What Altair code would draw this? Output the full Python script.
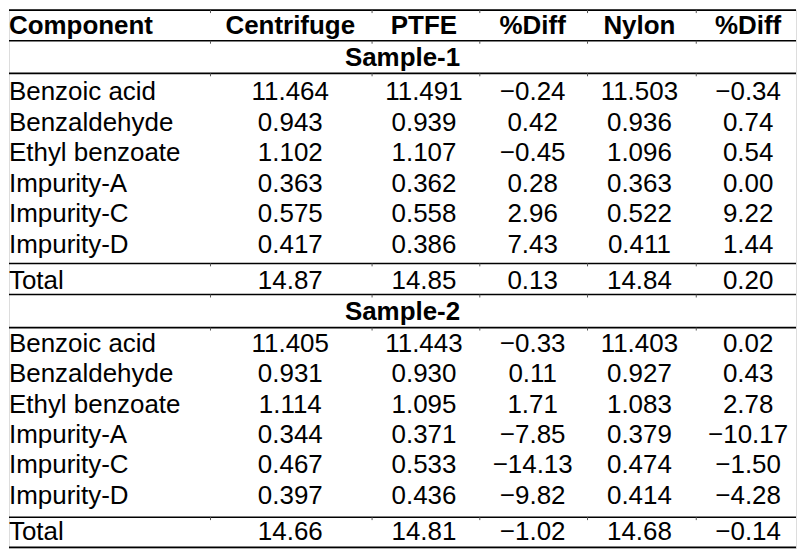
import altair as alt
import pandas as pd

# ---------------- data ----------------
headers = ["Component", "Centrifuge", "PTFE", "%Diff", "Nylon", "%Diff"]
sample_labels = ["Sample-1", "Sample-2"]
components = ["Benzoic acid", "Benzaldehyde", "Ethyl benzoate",
              "Impurity-A", "Impurity-C", "Impurity-D"]

s1_centrifuge = [11.464, 0.943, 1.102, 0.363, 0.575, 0.417]
s1_ptfe = [11.491, 0.939, 1.107, 0.362, 0.558, 0.386]
s1_ptfe_diff = [-0.24, 0.42, -0.45, 0.28, 2.96, 7.43]
s1_nylon = [11.503, 0.936, 1.096, 0.363, 0.522, 0.411]
s1_nylon_diff = [-0.34, 0.74, 0.54, 0.00, 9.22, 1.44]
s1_total = [14.87, 14.85, 0.13, 14.84, 0.20]

s2_centrifuge = [11.405, 0.931, 1.114, 0.344, 0.467, 0.397]
s2_ptfe = [11.443, 0.930, 1.095, 0.371, 0.533, 0.436]
s2_ptfe_diff = [-0.33, 0.11, 1.71, -7.85, -14.13, -9.82]
s2_nylon = [11.403, 0.927, 1.083, 0.379, 0.474, 0.414]
s2_nylon_diff = [0.02, 0.43, 2.78, -10.17, -1.50, -4.28]
s2_total = [14.66, 14.81, -1.02, 14.68, -0.14]

# ---------------- layout (reference pixel units, text baselines) ----------------
X0, X1 = 8, 797
Y0, Y1 = 1, 555
first_col_x = 8
col_centers = [290, 424, 533, 640, 749]
separators = [210, 372, 480, 588, 697]
header_base = 26
sample_base = [59, 320]
data_base0 = [94, 353]
row_pitch = [31.4, 31.2]
total_base = [288, 546]
line_y = [1.5, 33, 66.5, 262, 294, 328, 523, 554]


def fmt(v, d):
    s = f"{v:.{d}f}"
    return s.replace("-", "\u2212")


cells = []
cells.append(dict(x=first_col_x, y=header_base, text=headers[0], kind="head_left"))
for i, h in enumerate(headers[1:]):
    cells.append(dict(x=col_centers[i], y=header_base, text=h, kind="head"))

samples = [
    (s1_centrifuge, s1_ptfe, s1_ptfe_diff, s1_nylon, s1_nylon_diff, s1_total),
    (s2_centrifuge, s2_ptfe, s2_ptfe_diff, s2_nylon, s2_nylon_diff, s2_total),
]
for si, (cen, pt, ptd, ny, nyd, tot) in enumerate(samples):
    cells.append(dict(x=(X0 + X1) / 2, y=sample_base[si], text=sample_labels[si], kind="head"))
    for r, comp in enumerate(components):
        y = data_base0[si] + r * row_pitch[si]
        cells.append(dict(x=first_col_x, y=y, text=comp, kind="left"))
        vals = [fmt(cen[r], 3), fmt(pt[r], 3), fmt(ptd[r], 2),
                fmt(ny[r], 3), fmt(nyd[r], 2)]
        for c, t in enumerate(vals):
            cells.append(dict(x=col_centers[c], y=y, text=t, kind="center"))
    cells.append(dict(x=first_col_x, y=total_base[si], text="Total", kind="left"))
    for c, v in enumerate(tot):
        cells.append(dict(x=col_centers[c], y=total_base[si], text=fmt(v, 2), kind="center"))

df = pd.DataFrame(cells)
lines = pd.DataFrame({"y": line_y})
ticks = pd.DataFrame([dict(x=sx, y=ly, y2=ly + 3) for ly in line_y[:-1] for sx in separators])

PW, PH = 789, 540
xs = alt.Scale(domain=[X0, X1], nice=False, zero=False)
ys = alt.Scale(domain=[Y0, Y1], nice=False, zero=False, reverse=True)
FONT = "Liberation Sans"
FS = 26

base = alt.Chart(df)
X = alt.X("x:Q", scale=xs, axis=None)
Y = alt.Y("y:Q", scale=ys, axis=None)


def text_layer(kind, align, bold):
    kw = dict(align=align, baseline="alphabetic", font=FONT, fontSize=FS, color="black")
    if bold:
        kw["fontWeight"] = "bold"
    return base.transform_filter(alt.datum.kind == kind).mark_text(**kw).encode(
        x=X, y=Y, text="text:N")


rules = alt.Chart(lines).mark_rule(color="black", strokeWidth=1.6).encode(
    y=alt.Y("y:Q", scale=ys, axis=None),
    x=alt.value(0),
    x2=alt.value(PW),
)

tick_marks = alt.Chart(ticks).mark_rule(color="#555555", strokeWidth=1).encode(
    x=alt.X("x:Q", scale=xs, axis=None),
    y=alt.Y("y:Q", scale=ys, axis=None),
    y2="y2:Q",
)

chart = alt.layer(
    rules, tick_marks,
    text_layer("left", "left", False),
    text_layer("center", "center", False),
    text_layer("head", "center", True),
    text_layer("head_left", "left", True),
).properties(
    width=PW, height=PH, padding=0
).configure_view(strokeWidth=0).configure(background="white")

chart.save("out.html", embed_options={"renderer": "svg", "actions": False})
